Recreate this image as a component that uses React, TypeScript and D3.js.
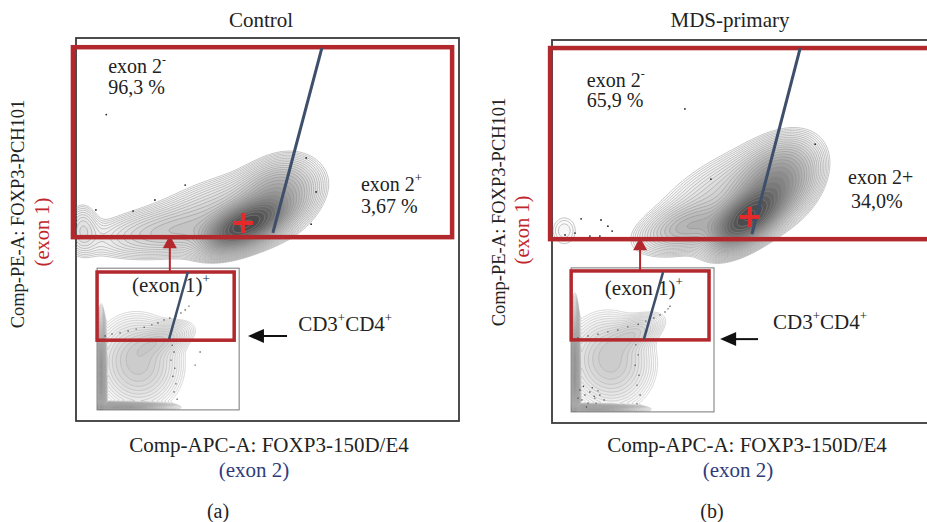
import * as d3 from "d3";

const FONT = "'Liberation Serif', 'Times New Roman', serif";
const GATE_RED = "#b3282d";
const CROSS_RED = "#e52a2c";
const SPLIT_BLUE = "#3e4f6b";

// panel texts
const panelTitles = ["Control", "MDS-primary"];
const panelLetters = ["(a)", "(b)"];
const exonNegPercent = ["96,3 %", "65,9 %"];
const exonPosMain = ["exon 2", "exon 2+"];
const exonPosSup = ["+", ""];
const exonPosPercent = ["3,67 %", "34,0%"];

// density blobs of the FOXP3 clouds, [cx, cy, sx, sy, angleDeg, weight] in axis units (0-100)
const controlCloud = [
  [44, 51, 5.5, 2.6, 25, 1.0],
  [52, 58, 6, 4.5, 40, 0.18],
  [40, 56, 12, 4.5, 15, 0.06],
  [24, 49, 12, 3.5, 6, 0.07],
  [1.5, 50, 2.5, 4, 0, 0.04],
];
const mdsCloud = [
  [51, 53.5, 5.5, 2.8, 38, 1.0],
  [58, 62, 6.5, 4.5, 45, 0.3],
  [45, 60, 12, 5, 30, 0.06],
  [36, 51, 7, 3, 15, 0.12],
  [3, 50, 3, 3.5, 0, 0.02],
];
// inset (CD3+CD4+ pre-gate) blobs
const controlInsetCloud = [
  [6.4, 12, 0.5, 6, 0, 1.0],
  [12, 3.4, 5, 0.5, 0, 0.8],
  [16, 15, 5.5, 6, 10, 0.12],
  [22, 21, 4.5, 2, 20, 0.08],
];
const mdsInsetCloud = [
  [5.8, 14, 0.5, 6.5, 0, 1.0],
  [11, 3.4, 5, 0.5, 0, 0.6],
  [15, 16, 5.5, 6, 15, 0.12],
  [21, 23, 4.5, 2, 28, 0.08],
];

// stray events [x, y]
const controlDots = [
  [28.5, 61.6], [20.6, 57.7], [14.9, 54.8], [5.2, 55.1], [60.1, 68.7],
  [62.7, 59.8], [61.4, 51.4], [7.9, 80],
];
const mdsDots = [
  [34.7, 82.0], [41.5, 63.7], [68.7, 72.8], [7.6, 53.3], [12.8, 53.0],
  [14.6, 51.4], [15.7, 50.1], [6.0, 49.6], [9.9, 48.8], [12.5, 48.8], [3.4, 49.1],
];
const controlInsetDots = [
  [7.6, 22.2], [9.4, 22.7], [11.5, 23.0], [13.6, 23.5], [15.7, 24.0], [17.8, 24.5],
  [19.8, 25.1], [21.4, 25.6], [23.0, 26.4], [24.5, 26.9], [26.1, 27.4], [27.4, 28.2],
  [28.5, 29.0], [29.5, 30.0], [25.1, 19.8], [25.6, 18.0], [24.8, 15.9], [25.8, 13.8],
  [25.3, 11.7], [26.1, 9.7], [25.6, 7.6], [26.4, 5.7], [31.1, 14.6], [32.4, 18.0],
];
const mdsInsetDots = [
  [6.8, 22.2], [9.4, 22.7], [12.0, 23.2], [14.6, 23.8], [17.2, 24.3], [19.8, 25.1],
  [22.5, 25.8], [24.5, 26.6], [26.6, 27.4], [28.2, 28.2], [29.5, 29.0], [30.3, 29.8],
  [30.8, 30.5], [21.9, 20.4], [22.5, 17.8], [21.7, 15.1], [22.7, 12.5], [22.2, 9.9],
  [23.0, 7.3], [22.2, 5.0], [7.3, 8.6], [8.6, 7.3], [9.9, 8.1], [11.2, 6.5],
  [12.5, 7.3], [7.8, 6.0], [9.4, 5.2], [11.5, 5.2], [13.6, 6.0], [6.8, 6.5],
  [8.2, 9.6], [10.5, 9.2], [12.0, 8.4], [9.0, 4.2], [11.0, 7.0],
];

// gates in axis units: [x0, x1, y0, y1]
const mainGates = [[-0.8, 98.2, 48.0, 97.6], [-0.5, 101, 48.0, 97.9]];
const splitLines = [[[64.2, 97.4], [51.4, 49.1]], [[64.8, 97.9], [52.2, 49.3]]];
const gateCenters = [[43.6, 51.7], [51.7, 53.8]];
const insetFrames = [[5.5, 42.6, 2.9, 39.9], [5.0, 42.3, 2.9, 40.5]];
const insetGates = [[5.5, 41.3, 21.1, 38.9], [5.0, 41.0, 21.7, 39.7]];
const insetSplits = [[[29.2, 38.9], [24.3, 21.4]], [[29.0, 39.4], [24.0, 21.9]]];

const clouds = [controlCloud, mdsCloud];
const insetClouds = [controlInsetCloud, mdsInsetCloud];
const dotsMain = [controlDots, mdsDots];
const dotsInset = [controlInsetDots, mdsInsetDots];

const layout = [
  { left: 76, top: 38, size: 383, titleX: 261, yLab: 24, yMid: 214, yLab2: 49, yMid2: 232,
    xLabX: 269, xLab2X: 254, letterX: 218,
    neg: [8.4, 90.9, 85.4], pos: [74.4, 60.1, 54.3], upArrowX: 24.5, insetText: [14.6, 33.7],
    sideArrow: [55.1, 44.9, 22.2], cd: [58.0, 23.5] },
  { left: 552, top: 40, size: 383, titleX: 730, yLab: 505, yMid: 212, yLab2: 529, yMid2: 230,
    xLabX: 747, xLab2X: 738, letterX: 712,
    neg: [9.1, 87.7, 82.5], pos: [77.3, 62.4, 56.1], upArrowX: 23.0, insetText: [13.8, 33.4],
    sideArrow: [53.8, 43.9, 21.9], cd: [57.7, 24.5] },
];

function density(blobs: number[][], x: number, y: number) {
  let s = 0;
  for (const [cx, cy, sx, sy, ang, w] of blobs) {
    const a = (ang * Math.PI) / 180;
    const dx = x - cx, dy = y - cy;
    const u = dx * Math.cos(a) + dy * Math.sin(a);
    const v = -dx * Math.sin(a) + dy * Math.cos(a);
    s += w * Math.exp(-0.5 * ((u * u) / (sx * sx) + (v * v) / (sy * sy)));
  }
  return s;
}

function contourPaths(blobs, xs, ys, ext, step, levels, lo) {
  const [x0, x1, y0, y1] = ext;
  const n = Math.round((x1 - x0) / step) + 1;
  const m = Math.round((y1 - y0) / step) + 1;
  const values = new Array(n * m);
  for (let j = 0; j < m; j++)
    for (let i = 0; i < n; i++) values[i + j * n] = density(blobs, x0 + i * step, y0 + j * step);
  const max = d3.max(values) as number;
  const thresholds = d3.range(levels).map((k) => max * Math.pow(lo, 1 - k / (levels - 1)) * 0.96);
  const contours = d3.contours().size([n, m]).thresholds(thresholds)(values);
  const path = d3.geoPath(
    d3.geoTransform({
      point(x, y) {
        this.stream.point(xs(x0 + x * step), ys(y0 + y * step));
      },
    })
  );
  return contours.map((c) => path(c));
}

const Panel = ({ i }) => {
  const L = layout[i];
  const xs = d3.scaleLinear([0, 100], [L.left, L.left + L.size]);
  const ys = d3.scaleLinear([0, 100], [L.top + L.size, L.top]);
  const main = contourPaths(clouds[i], xs, ys, [-3, 100, 25, 95], 0.4, 28, 0.012);
  const inset = contourPaths(insetClouds[i], xs, ys, [0, 45, 0, 42], 0.3, 24, 0.01);
  const [gx0, gx1, gy0, gy1] = mainGates[i];
  const [fx0, fx1, fy0, fy1] = insetFrames[i];
  const [ix0, ix1, iy0, iy1] = insetGates[i];
  const [gcx, gcy] = gateCenters[i];
  const arrowTip = ys(gy0) - 2;
  const arrowBase = ys(iy1);
  const ax = xs(L.upArrowX);
  const [sa0, sa1, say] = L.sideArrow;
  const nMain = main.length;
  const nIn = inset.length;
  return (
    <g>
      <defs>
        <clipPath id={`frame${i}`}>
          <rect x={L.left} y={L.top} width={L.size} height={L.size} />
        </clipPath>
        <clipPath id={`inset${i}`}>
          <rect x={xs(fx0)} y={ys(fy1)} width={xs(fx1) - xs(fx0)} height={ys(fy0) - ys(fy1)} />
        </clipPath>
      </defs>
      <text x={L.titleX} y={27} textAnchor="middle" fontSize={21} fill="#222">{panelTitles[i]}</text>
      <rect x={L.left} y={L.top} width={L.size} height={L.size} fill="#fff" stroke="#3a3a3a" strokeWidth={1.8} />
      <g clipPath={`url(#frame${i})`}>
        {main.map((d, k) => (
          <path key={k} d={d} fill="#000" fillOpacity={0.012 + 0.1 * Math.pow(k / nMain, 2)} stroke="#8a8a8a" strokeWidth={0.5} />
        ))}
        {dotsMain[i].map(([x, y], k) => (
          <circle key={k} cx={xs(x)} cy={ys(y)} r={0.9} fill="#222" />
        ))}
      </g>
      <rect x={xs(fx0)} y={ys(fy1)} width={xs(fx1) - xs(fx0)} height={ys(fy0) - ys(fy1)} fill="#fff" stroke="#777" strokeWidth={1} />
      <g clipPath={`url(#inset${i})`}>
        {inset.map((d, k) => (
          <path key={k} d={d} fill="#000" fillOpacity={0.008 + 0.03 * (k / nIn)} stroke="#a2a2a2" strokeWidth={0.4} />
        ))}
        {dotsInset[i].map(([x, y], k) => (
          <circle key={k} cx={xs(x)} cy={ys(y)} r={0.7} fill="#333" />
        ))}
      </g>
      {/* main gate */}
      <rect x={xs(gx0)} y={ys(gy1)} width={xs(gx1) - xs(gx0)} height={ys(gy0) - ys(gy1)} fill="none" stroke={GATE_RED} strokeWidth={4.5} />
      <line x1={xs(splitLines[i][0][0])} y1={ys(splitLines[i][0][1])} x2={xs(splitLines[i][1][0])} y2={ys(splitLines[i][1][1])} stroke={SPLIT_BLUE} strokeWidth={3} />
      <line x1={xs(gcx) - 10} x2={xs(gcx) + 10} y1={ys(gcy)} y2={ys(gcy)} stroke={CROSS_RED} strokeWidth={4} />
      <line x1={xs(gcx)} x2={xs(gcx)} y1={ys(gcy) - 10} y2={ys(gcy) + 10} stroke={CROSS_RED} strokeWidth={4} />
      {/* inset gate */}
      <rect x={xs(ix0)} y={ys(iy1)} width={xs(ix1) - xs(ix0)} height={ys(iy0) - ys(iy1)} fill="none" stroke={GATE_RED} strokeWidth={3.5} />
      <line x1={xs(insetSplits[i][0][0])} y1={ys(insetSplits[i][0][1])} x2={xs(insetSplits[i][1][0])} y2={ys(insetSplits[i][1][1])} stroke={SPLIT_BLUE} strokeWidth={2.5} />
      {/* arrow from inset gate up to main gate */}
      <line x1={ax} x2={ax} y1={arrowBase} y2={arrowTip + 10} stroke={GATE_RED} strokeWidth={2} />
      <path d={`M${ax},${arrowTip} L${ax - 7},${arrowTip + 13} L${ax + 7},${arrowTip + 13} Z`} fill={GATE_RED} />
      {/* side arrow */}
      <line x1={xs(sa0)} x2={xs(sa1) + 12} y1={ys(say)} y2={ys(say)} stroke="#111" strokeWidth={2} />
      <path d={`M${xs(sa1)},${ys(say)} L${xs(sa1) + 16},${ys(say) - 7} L${xs(sa1) + 16},${ys(say) + 7} Z`} fill="#111" />
      {/* labels */}
      <g fontSize={20} fill="#222">
        <text x={xs(L.neg[0])} y={ys(L.neg[1])}>exon 2<tspan dy={-9} fontSize={12}>-</tspan></text>
        <text x={xs(L.neg[0])} y={ys(L.neg[2])}>{exonNegPercent[i]}</text>
        <text x={xs(L.pos[0])} y={ys(L.pos[1])}>
          {exonPosMain[i]}
          {exonPosSup[i] && <tspan dy={-9} fontSize={13}>{exonPosSup[i]}</tspan>}
        </text>
        <text x={xs(L.pos[0]) + (i === 1 ? 3 : 0)} y={ys(L.pos[2])}>{exonPosPercent[i]}</text>
      </g>
      <g fontSize={21} fill="#222">
        <text x={xs(L.insetText[0])} y={ys(L.insetText[1])}>(exon 1)<tspan dy={-9} fontSize={13}>+</tspan></text>
        <text x={xs(L.cd[0])} y={ys(L.cd[1])}>
          CD3<tspan dy={-9} fontSize={13}>+</tspan><tspan dy={9}>CD4</tspan><tspan dy={-9} fontSize={13}>+</tspan>
        </text>
      </g>
      <text transform={`translate(${L.yLab},${L.yMid}) rotate(-90)`} textAnchor="middle" fontSize={18.5} fill="#222">
        Comp-PE-A: FOXP3-PCH101
      </text>
      <text transform={`translate(${L.yLab2},${L.yMid2}) rotate(-90)`} textAnchor="middle" fontSize={20.5} fill="#c0272d">
        (exon 1)
      </text>
      <text x={L.xLabX} y={452} textAnchor="middle" fontSize={21} fill="#222">Comp-APC-A: FOXP3-150D/E4</text>
      <text x={L.xLab2X} y={477} textAnchor="middle" fontSize={21} fill="#2f3c7c">(exon 2)</text>
      <text x={L.letterX} y={518} textAnchor="middle" fontSize={20} fill="#222">{panelLetters[i]}</text>
    </g>
  );
};

export default function App() {
  return (
    <>
      <style>{`body{margin:0}`}</style>
      <svg width={927} height={522} style={{ display: "block", fontFamily: FONT }}>
        <rect width={927} height={522} fill="#fff" />
        <Panel i={0} />
        <Panel i={1} />
      </svg>
    </>
  );
}
